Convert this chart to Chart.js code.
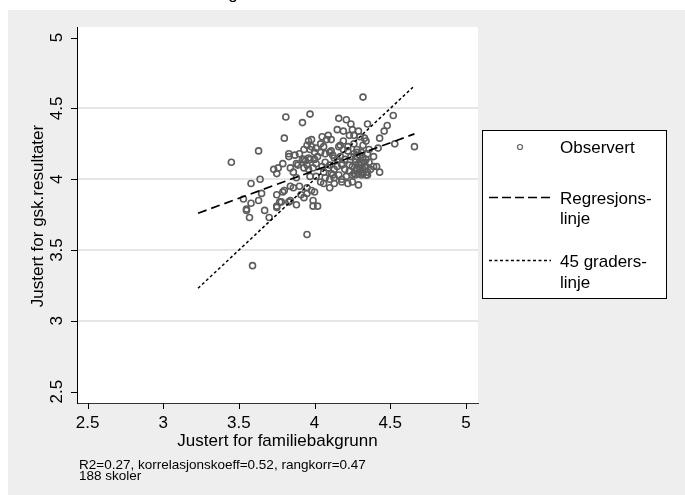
<!DOCTYPE html>
<html>
<head>
<meta charset="utf-8">
<script src="https://cdn.jsdelivr.net/npm/chart.js@4/dist/chart.umd.min.js"></script>
<style>
  body { margin: 0; background: #fff; }
  canvas { display: block; }
</style>
</head>
<body>
<canvas id="grafico" width="685" height="495"></canvas>
<script>
// observerte skoler (x = justert for familiebakgrunn, y = justert for gsk.resultater)
var obsX = [3.45, 3.81, 3.97, 3.92, 3.80, 3.63, 3.58, 3.64, 3.53, 3.58, 3.55, 3.55, 3.57, 3.63, 3.65, 3.67, 3.70, 3.75, 3.77, 3.79,
            3.83, 3.73, 3.75, 3.76, 3.79, 3.83, 3.83, 3.87, 3.90, 3.89, 3.59, 3.95, 4.32, 4.66, 4.52, 4.48, 4.46, 4.43, 4.53, 4.16,
            4.21, 4.24, 4.35, 4.15, 4.19, 4.25, 4.29, 4.23, 4.26, 4.30, 4.19, 4.08, 4.11, 3.98, 3.95, 4.04, 4.06, 4.01, 3.97, 3.93,
            3.93, 3.97, 4.00, 4.02, 4.07, 4.10, 4.12, 4.15, 4.17, 4.19, 4.22, 4.26, 4.28, 4.32, 4.34, 4.39, 4.42, 4.36, 3.88, 3.84,
            3.88, 3.93, 3.96, 3.99, 4.01, 4.05, 4.06, 4.09, 4.11, 4.13, 4.16, 4.18, 4.20, 4.23, 4.27, 4.28, 4.30, 4.32, 4.29, 4.26,
            4.31, 4.34, 4.37, 4.39, 4.41, 4.43, 4.35, 4.31, 4.25, 4.21, 4.18, 4.13, 4.10, 4.07, 4.04, 4.01, 3.97, 4.10, 4.13, 4.18,
            4.22, 4.25, 4.29, 4.06, 3.84, 3.86, 3.90, 3.95, 3.98, 3.80, 3.75, 3.91, 3.95, 4.00, 3.99, 4.02, 3.99, 3.93, 3.88, 3.84,
            3.78, 3.75, 3.96, 3.98, 3.92, 3.94, 3.96, 4.26, 4.28, 4.30, 4.32, 4.31, 4.27, 4.29, 4.33, 4.30, 4.33, 4.31, 4.34, 4.36,
            4.25, 4.27, 4.32, 4.35, 4.33, 4.34, 4.27, 4.12, 4.16, 4.11, 4.13, 4.17, 4.20, 4.10, 4.15, 4.18, 4.09, 4.05, 4.00, 4.04,
            3.95, 4.07, 4.22, 4.24, 3.86, 4.28, 4.35, 4.23];
var obsY = [4.12, 4.44, 4.46, 4.40, 4.29, 4.20, 3.97, 4.00, 3.86, 3.83, 3.79, 3.78, 3.73, 3.85, 3.90, 3.78, 3.73, 3.80, 3.84, 3.91,
            3.84, 4.07, 4.04, 4.08, 4.11, 4.18, 4.16, 4.17, 4.18, 4.10, 3.39, 3.61, 4.58, 4.23, 4.45, 4.38, 4.34, 4.29, 4.25, 4.43,
            4.42, 4.39, 4.39, 4.35, 4.34, 4.35, 4.34, 4.31, 4.31, 4.30, 4.27, 4.28, 4.28, 4.28, 4.24, 4.25, 4.23, 4.22, 4.21, 4.21,
            4.14, 4.14, 4.14, 4.16, 4.18, 4.19, 4.17, 4.14, 4.24, 4.21, 4.23, 4.25, 4.21, 4.24, 4.27, 4.16, 4.22, 4.21, 4.11, 4.08,
            4.01, 4.08, 4.07, 4.08, 4.11, 4.09, 4.05, 4.08, 4.04, 4.07, 4.03, 4.11, 4.07, 4.10, 4.14, 4.08, 4.10, 4.07, 4.04, 4.04,
            4.12, 4.09, 4.07, 4.09, 4.09, 4.05, 4.03, 4.03, 4.03, 4.02, 4.00, 4.01, 4.00, 4.01, 3.98, 4.02, 4.02, 3.94, 3.97, 3.98,
            3.97, 3.98, 3.96, 3.97, 3.95, 3.94, 3.95, 3.94, 3.92, 3.92, 3.89, 3.89, 3.90, 3.91, 3.85, 3.81, 3.81, 3.87, 3.82, 3.85,
            3.84, 3.81, 4.27, 4.23, 4.14, 4.13, 4.15, 4.18, 4.16, 4.17, 4.15, 4.19, 4.12, 4.11, 4.12, 4.07, 4.09, 4.05, 4.14, 4.12,
            4.09, 4.06, 4.04, 4.05, 4.29, 4.03, 4.03, 4.03, 4.23, 4.20, 4.15, 4.16, 4.14, 4.10, 4.09, 4.10, 4.31, 4.30, 4.19, 4.19,
            4.10, 4.12, 4.20, 4.16, 4.05, 4.19, 4.18, 4.06];

// regresjonslinje og 45 graders-linje (endepunkter)
var regX = [3.23, 4.66];
var regY = [3.76, 4.32];
var diagX = [3.23, 4.65];

var xTicks = [2.5, 3, 3.5, 4, 4.5, 5];
var yTicks = [2.5, 3, 3.5, 4, 4.5, 5];
var yGrid = [3, 3.5, 4, 4.5];

var fonte = '"Liberation Sans", Arial, sans-serif';

function tilPunkter(xs, ys) {
    var p = [];
    for (var i = 0; i < xs.length; i++) {
        p.push({ x: xs[i], y: ys[i] });
    }
    return p;
}

function tekstRotert(ctx, s, x, y) {
    ctx.save();
    ctx.translate(x, y);
    ctx.rotate(-Math.PI / 2);
    ctx.fillText(s, 0, 0);
    ctx.restore();
}

const pynt = {
    id: 'pynt',
    beforeDraw(chart) {
        const ctx = chart.ctx, a = chart.chartArea;
        ctx.save();
        ctx.fillStyle = '#ffffff';
        ctx.fillRect(0, 0, chart.width, chart.height);
        ctx.fillStyle = '#eeeeee';
        ctx.fillRect(8, 10, chart.width - 8, chart.height - 10);
        ctx.fillStyle = '#ffffff';
        ctx.fillRect(a.left, a.top, a.right - a.left, a.bottom - a.top);
        // rest av tittelen som er kuttet i toppen
        ctx.fillStyle = '#000';
        ctx.font = '17px ' + fonte;
        ctx.textAlign = 'center';
        ctx.fillText('g', 233, -1);
        ctx.restore();
    },
    afterDraw(chart) {
        const ctx = chart.ctx, a = chart.chartArea;
        const sx = chart.scales.x, sy = chart.scales.y;
        ctx.save();
        ctx.strokeStyle = '#000';
        ctx.fillStyle = '#000';
        ctx.lineWidth = 1;

        // tick-streker
        ctx.beginPath();
        xTicks.forEach(function (v) {
            var px = Math.round(sx.getPixelForValue(v)) + 0.5;
            ctx.moveTo(px, a.bottom);
            ctx.lineTo(px, a.bottom + 6);
        });
        yTicks.forEach(function (v) {
            var py = Math.round(sy.getPixelForValue(v)) + 0.5;
            ctx.moveTo(a.left - 6, py);
            ctx.lineTo(a.left, py);
        });
        ctx.stroke();

        // tick-tekster
        ctx.font = '17px ' + fonte;
        ctx.textAlign = 'center';
        ctx.textBaseline = 'alphabetic';
        xTicks.forEach(function (v) {
            ctx.fillText(String(v), sx.getPixelForValue(v), 428);
        });
        yTicks.forEach(function (v) {
            tekstRotert(ctx, String(v), 62, sy.getPixelForValue(v));
        });

        // aksetitler
        ctx.fillText('Justert for familiebakgrunn', (a.left + a.right) / 2, 446);
        tekstRotert(ctx, 'Justert for gsk.resultater', 43, 216);

        // fotnote
        ctx.textAlign = 'left';
        ctx.font = '13.5px ' + fonte;
        ctx.fillText('R2=0.27, korrelasjonskoeff=0.52, rangkorr=0.47', 79, 468.5);
        ctx.fillText('188 skoler', 79, 480);

        // legend
        ctx.fillStyle = '#ffffff';
        ctx.fillRect(482, 130, 185, 169);
        ctx.strokeStyle = '#000';
        ctx.lineWidth = 1;
        ctx.strokeRect(482.5, 130.5, 184, 168);

        ctx.strokeStyle = '#606060';
        ctx.lineWidth = 1.2;
        ctx.beginPath();
        ctx.arc(520, 147, 2.5, 0, Math.PI * 2);
        ctx.stroke();

        ctx.strokeStyle = '#000';
        ctx.lineWidth = 1.7;
        ctx.setLineDash([9, 4]);
        ctx.beginPath();
        ctx.moveTo(489, 197.5);
        ctx.lineTo(551, 197.5);
        ctx.stroke();

        ctx.lineWidth = 1.5;
        ctx.setLineDash([3, 2.5]);
        ctx.beginPath();
        ctx.moveTo(489, 260.5);
        ctx.lineTo(551, 260.5);
        ctx.stroke();
        ctx.setLineDash([]);

        ctx.fillStyle = '#000';
        ctx.font = '17px ' + fonte;
        ctx.fillText('Observert', 560, 153);
        ctx.fillText('Regresjons-', 560, 203.5);
        ctx.fillText('linje', 560, 224);
        ctx.fillText('45 graders-', 560, 267);
        ctx.fillText('linje', 560, 288);
        ctx.restore();
    }
};

new Chart(document.getElementById('grafico'), {
    type: 'scatter',
    data: {
        datasets: [
            {
                label: 'Regresjonslinje',
                data: tilPunkter(regX, regY),
                showLine: true,
                borderColor: '#000',
                borderWidth: 1.7,
                borderDash: [9, 5],
                pointRadius: 0,
                order: 0
            },
            {
                label: '45 graderslinje',
                data: tilPunkter(diagX, diagX),
                showLine: true,
                borderColor: '#000',
                borderWidth: 1.5,
                borderDash: [3, 2.5],
                pointRadius: 0,
                order: 0
            },
            {
                label: 'Observert',
                data: tilPunkter(obsX, obsY),
                pointRadius: 3,
                pointBorderWidth: 1.6,
                pointBackgroundColor: 'rgba(0,0,0,0)',
                pointBorderColor: '#5c5c5c',
                order: 1
            }
        ]
    },
    options: {
        responsive: false,
        animation: false,
        devicePixelRatio: 1,
        layout: { padding: { left: 77, top: 27, right: 207, bottom: 92 } },
        plugins: { legend: { display: false }, tooltip: { enabled: false } },
        scales: {
            x: {
                type: 'linear',
                min: 2.43,
                max: 5.08,
                ticks: { display: false, stepSize: 0.5 },
                grid: { drawOnChartArea: false, drawTicks: false },
                border: { display: true, color: '#333', width: 1 }
            },
            y: {
                type: 'linear',
                min: 2.42,
                max: 5.075,
                ticks: { display: false, stepSize: 0.5 },
                grid: {
                    drawTicks: false,
                    lineWidth: 2,
                    color: function (c) {
                        return (c.tick && yGrid.indexOf(c.tick.value) >= 0) ? '#e6e6e6' : 'rgba(0,0,0,0)';
                    }
                },
                border: { display: true, color: '#000', width: 1 }
            }
        }
    },
    plugins: [pynt]
});
</script>
</body>
</html>
